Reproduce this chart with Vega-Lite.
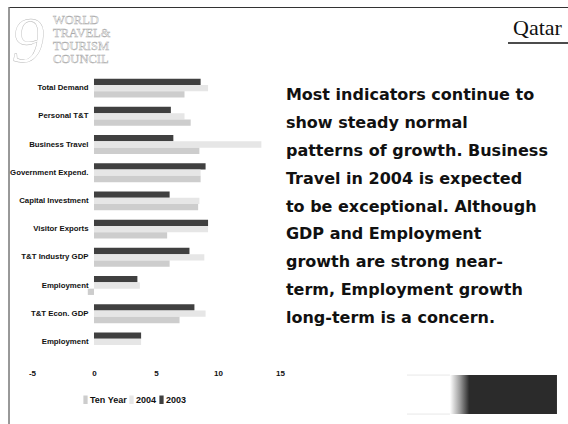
{
  "$schema": "https://vega.github.io/schema/vega-lite/v6.json",
  "width": 559,
  "height": 417,
  "autosize": {"type": "none"},
  "padding": {"left": 9, "top": 7, "right": 0, "bottom": 0},
  "background": "white",
  "config": {"view": {"stroke": null}},
  "datasets": {
    "bars": [
      {"category": "Total Demand", "series": "2003", "value": 8.6},
      {"category": "Total Demand", "series": "2004", "value": 9.2},
      {"category": "Total Demand", "series": "Ten Year", "value": 7.3},
      {"category": "Personal T&T", "series": "2003", "value": 6.2},
      {"category": "Personal T&T", "series": "2004", "value": 7.3},
      {"category": "Personal T&T", "series": "Ten Year", "value": 7.8},
      {"category": "Business Travel", "series": "2003", "value": 6.4},
      {"category": "Business Travel", "series": "2004", "value": 13.5},
      {"category": "Business Travel", "series": "Ten Year", "value": 8.5},
      {"category": "Government Expend.", "series": "2003", "value": 9.0},
      {"category": "Government Expend.", "series": "2004", "value": 8.6},
      {"category": "Government Expend.", "series": "Ten Year", "value": 8.6},
      {"category": "Capital Investment", "series": "2003", "value": 6.1},
      {"category": "Capital Investment", "series": "2004", "value": 8.5},
      {"category": "Capital Investment", "series": "Ten Year", "value": 8.4},
      {"category": "Visitor Exports", "series": "2003", "value": 9.2},
      {"category": "Visitor Exports", "series": "2004", "value": 9.2},
      {"category": "Visitor Exports", "series": "Ten Year", "value": 5.9},
      {"category": "T&T Industry GDP", "series": "2003", "value": 7.7},
      {"category": "T&T Industry GDP", "series": "2004", "value": 8.9},
      {"category": "T&T Industry GDP", "series": "Ten Year", "value": 6.1},
      {"category": "Employment (T&T Industry)", "series": "2003", "value": 3.5},
      {"category": "Employment (T&T Industry)", "series": "2004", "value": 3.7},
      {"category": "Employment (T&T Industry)", "series": "Ten Year", "value": -0.5},
      {"category": "T&T Econ. GDP", "series": "2003", "value": 8.1},
      {"category": "T&T Econ. GDP", "series": "2004", "value": 9.0},
      {"category": "T&T Econ. GDP", "series": "Ten Year", "value": 6.9},
      {"category": "Employment (T&T Economy)", "series": "2003", "value": 3.8},
      {"category": "Employment (T&T Economy)", "series": "2004", "value": 3.8},
      {"category": "Employment (T&T Economy)", "series": "Ten Year", "value": 0.0}
    ],
    "note": [
      {"line": 1, "text": "Most indicators continue to"},
      {"line": 2, "text": "show steady normal"},
      {"line": 3, "text": "patterns of growth.  Business"},
      {"line": 4, "text": "Travel in 2004 is expected"},
      {"line": 5, "text": "to be exceptional.  Although"},
      {"line": 6, "text": "GDP and Employment"},
      {"line": 7, "text": "growth are strong near-"},
      {"line": 8, "text": "term, Employment growth"},
      {"line": 9, "text": "long-term is a concern."}
    ]
  },
  "layer": [
    {
      "data": {"name": "bars"},
      "mark": {"type": "bar"},
      "encoding": {
        "y": {
          "field": "category", "type": "nominal", "sort": null,
          "scale": {"range": [67, 349], "paddingInner": 0.33, "paddingOuter": 0.165},
          "axis": {
            "orient": "left", "title": null, "grid": false,
            "domain": false,
            "ticks": false, "tickSize": 0,
            "labelPadding": -79, "labelAlign": "right", "labelBaseline": "middle",
            "labelFont": "Liberation Sans",
            "labelFontSize": 7.8, "labelFontWeight": "bold", "labelColor": "#111111",
            "labelExpr": "split(datum.label, ' (')[0]"
          }
        },
        "yOffset": {"field": "series", "type": "nominal", "scale": {"domain": ["2003", "2004", "Ten Year"]}},
        "x": {
          "field": "value", "type": "quantitative",
          "scale": {"domain": [-6.855, 38.23], "nice": false, "zero": false},
          "axis": {
            "orient": "top", "title": null, "grid": false, "values": [-5, 0, 5, 10, 15],
            "domain": true, "domainColor": "#333333", "domainWidth": 1,
            "ticks": false, "tickSize": 0,
            "labelPadding": -366, "labelBaseline": "middle",
            "labelExpr": "'' + datum.value",
            "labelFont": "Liberation Sans",
            "labelFontSize": 8, "labelFontWeight": "bold", "labelColor": "#111111"
          }
        },
        "x2": {"datum": 0},
        "color": {
          "field": "series", "type": "nominal",
          "scale": {"domain": ["Ten Year", "2004", "2003"], "range": ["#cdcdcd", "#e6e6e6", "#404040"]},
          "legend": {
            "orient": "none", "legendX": 72, "legendY": 388, "direction": "horizontal",
            "title": null, "padding": 0,
            "labelFont": "Liberation Sans",
            "labelFontSize": 9, "labelFontWeight": "bold", "labelColor": "#111111",
            "symbolType": "M-1,-2H1V2H-1Z", "symbolSize": 18, "symbolStrokeWidth": 0,
            "labelOffset": 0, "columnPadding": 0
          }
        }
      }
    },
    {
      "layer": [
        {
          "data": {"name": "note"},
          "mark": {"type": "text", "align": "left", "baseline": "middle", "font": "DejaVu Sans", "fontSize": 16, "fontWeight": "bold", "color": "#111111"},
          "encoding": {
            "x": {"datum": 15.48, "scale": {"domain": [-6.855, 38.23], "nice": false, "zero": false}, "axis": null},
            "y": {"field": "line", "type": "quantitative", "scale": {"domain": [-2.157, 12.8], "reverse": true, "nice": false, "zero": false}, "axis": null},
            "text": {"field": "text"}
          }
        },
        {
          "data": {"values": [{}]},
          "mark": {"type": "rule", "color": "#333333", "strokeWidth": 1},
          "encoding": {
            "x": {"datum": -6.855, "scale": {"domain": [-6.855, 38.23], "nice": false, "zero": false}, "axis": null},
            "y": {"datum": -2.157, "scale": {"domain": [-2.157, 12.8], "reverse": true, "nice": false, "zero": false}, "axis": null},
            "y2": {"datum": 12.8}
          }
        },
        {
          "data": {"values": [{}]},
          "mark": {"type": "text", "align": "left", "baseline": "middle", "font": "Liberation Serif", "fontSize": 12.5, "lineHeight": 12.8, "fill": "#ffffff", "stroke": "#a8a8a8", "strokeWidth": 0.45, "text": ["WORLD", "TRAVEL&", "TOURISM", "COUNCIL"]},
          "encoding": {
            "x": {"datum": -3.307, "scale": {"domain": [-6.855, 38.23], "nice": false, "zero": false}, "axis": null},
            "y": {"datum": -1.673, "scale": {"domain": [-2.157, 12.8], "reverse": true, "nice": false, "zero": false}, "axis": null}
          }
        },
        {
          "data": {"values": [{}]},
          "mark": {"type": "text", "align": "center", "baseline": "middle", "font": "Liberation Serif", "fontStyle": "italic", "fontSize": 66, "fill": "#ffffff", "stroke": "#b4b4b4", "strokeWidth": 0.4, "text": "9"},
          "encoding": {
            "x": {"datum": -5.32, "scale": {"domain": [-6.855, 38.23], "nice": false, "zero": false}, "axis": null},
            "y": {"datum": -0.9, "scale": {"domain": [-2.157, 12.8], "reverse": true, "nice": false, "zero": false}, "axis": null}
          }
        },
        {
          "data": {"values": [{}]},
          "mark": {"type": "text", "align": "right", "baseline": "alphabetic", "font": "Liberation Serif", "fontSize": 22, "color": "#111111", "text": "Qatar"},
          "encoding": {
            "x": {"datum": 37.74, "scale": {"domain": [-6.855, 38.23], "nice": false, "zero": false}, "axis": null},
            "y": {"datum": -1.152, "scale": {"domain": [-2.157, 12.8], "reverse": true, "nice": false, "zero": false}, "axis": null}
          }
        },
        {
          "data": {"values": [{}]},
          "mark": {"type": "rule", "color": "#111111", "strokeWidth": 1.5},
          "encoding": {
            "x": {"datum": 33.39, "scale": {"domain": [-6.855, 38.23], "nice": false, "zero": false}, "axis": null},
            "x2": {"datum": 38.23},
            "y": {"datum": -0.866, "scale": {"domain": [-2.157, 12.8], "reverse": true, "nice": false, "zero": false}, "axis": null}
          }
        },
        {
          "data": {"values": [{}]},
          "mark": {"type": "rule", "color": "#e8e8e8", "strokeWidth": 1},
          "encoding": {
            "x": {"datum": 25.24, "scale": {"domain": [-6.855, 38.23], "nice": false, "zero": false}, "axis": null},
            "x2": {"datum": 28.71},
            "y": {"datum": 11.045, "scale": {"domain": [-2.157, 12.8], "reverse": true, "nice": false, "zero": false}, "axis": null}
          }
        },
        {
          "data": {"values": [{}]},
          "mark": {"type": "rule", "color": "#e8e8e8", "strokeWidth": 1},
          "encoding": {
            "x": {"datum": 25.24, "scale": {"domain": [-6.855, 38.23], "nice": false, "zero": false}, "axis": null},
            "x2": {"datum": 28.71},
            "y": {"datum": 12.444, "scale": {"domain": [-2.157, 12.8], "reverse": true, "nice": false, "zero": false}, "axis": null}
          }
        },
        {
          "data": {"values": [{}]},
          "mark": {
            "type": "rect",
            "fill": {"gradient": "linear", "x1": 0, "y1": 0, "x2": 1, "y2": 0,
                     "stops": [{"offset": 0, "color": "#ffffff"}, {"offset": 0.09, "color": "#a0a0a0"}, {"offset": 0.18, "color": "#2b2b2b"}, {"offset": 1, "color": "#2b2b2b"}]}
          },
          "encoding": {
            "x": {"datum": 28.71, "scale": {"domain": [-6.855, 38.23], "nice": false, "zero": false}, "axis": null},
            "x2": {"datum": 37.34},
            "y": {"datum": 11.045, "scale": {"domain": [-2.157, 12.8], "reverse": true, "nice": false, "zero": false}, "axis": null},
            "y2": {"datum": 12.444}
          }
        }
      ]
    }
  ],
  "resolve": {"scale": {"y": "independent"}, "axis": {"x": "independent", "y": "independent"}}
}
